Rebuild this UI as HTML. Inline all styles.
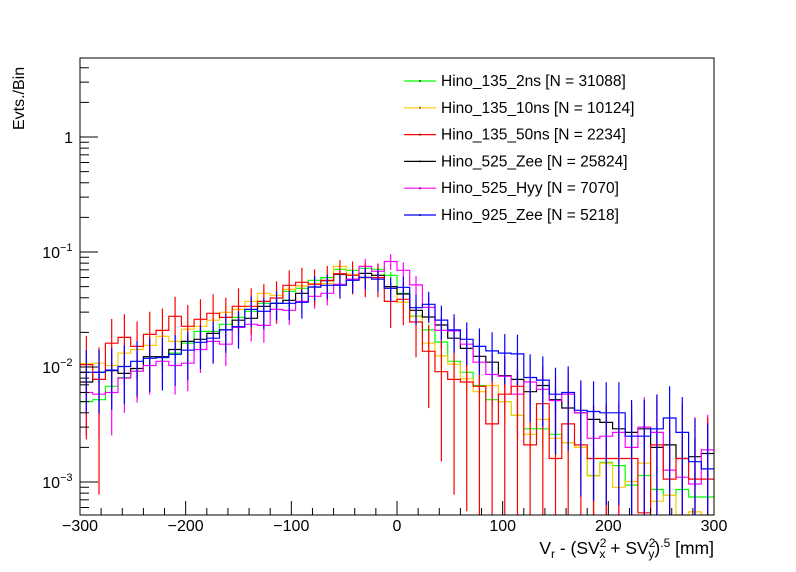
<!DOCTYPE html>
<html><head><meta charset="utf-8"><style>
body{margin:0;background:#fff;}
svg{display:block;font-family:"Liberation Sans",Arial,sans-serif;}
</style></head><body>
<svg id="chart" width="796" height="572" viewBox="0 0 796 572">
<rect x="0" y="0" width="796" height="572" fill="#fff"/>
<g id="plot"></g>
<g id="axes"></g>
<g id="legend"></g>
<text x="714" y="554" text-anchor="end" font-size="17.5">V<tspan font-size="12" dy="4">r</tspan><tspan dy="-4"> - (SV</tspan><tspan font-size="12" dy="-7">2</tspan><tspan font-size="12" dx="-7" dy="11">x</tspan><tspan dy="-4"> + SV</tspan><tspan font-size="12" dy="-7">2</tspan><tspan font-size="12" dx="-7" dy="11">y</tspan><tspan dy="-4">)</tspan><tspan font-size="12" dy="-7">.5</tspan><tspan dy="7"> [mm]</tspan></text>
<text transform="translate(24,130) rotate(-90)" text-anchor="start" font-size="16">Evts./Bin</text>
</svg>
<script>
const seriesNames = ["Hino_135_2ns","Hino_135_10ns","Hino_135_50ns","Hino_525_Zee","Hino_525_Hyy","Hino_925_Zee"];
const seriesCounts = [31088,10124,2234,25824,7070,5218];
const seriesColors = ["#00ff00","#ffc800","#ff0000","#000000","#ff00ff","#0000ff"];
const effEntries = [3000,1500,158,3000,500,352];
const binEdgesMin = -300, binEdgesMax = 300;
const xTicks = [-300,-200,-100,0,100,200,300];
const green = [.0050,.0052,.0068,.0081,.0092,.0123,.0121,.0132,.0161,.0204,.0204,.0235,.0270,.0305,.0358,.0358,.0455,.0483,.0567,.0599,.0707,.0693,.0721,.0707,.0627,.0437,
 .0277,.0210,.0165,.0112,.0090,.0069,.0052,.0050,.0038,.0029,.0029,.0026,.0022,.0020,.00114,.00148,.00139,.00094,.00114,.00086,.00077,.00086,.00074,.00074];
const yellow = [.0107,.0108,.0103,.0132,.0142,.0154,.0185,.0167,.0213,.0226,.0255,.0299,.0317,.0372,.0437,.0420,.0473,.0506,.0531,.0531,.0750,.0640,.0603,.0627,.0483,.0367,
 .0274,.0161,.0125,.0106,.0079,.0061,.0069,.0050,.0038,.0026,.0035,.0024,.0022,.0020,.00113,.00146,.0009,.00101,.00146,.00068,.00077,0,.00055,0];
const red = [.0105,.0078,.0161,.0181,.0151,.0192,.0208,.0276,.0226,.0260,.0293,.0270,.0337,.0337,.0372,.0398,.0513,.0545,.0524,.0567,.0648,.0627,.0599,.0599,.0372,.0388,
 .0246,.0137,.0091,.0078,.0074,.0068,.0032,.0058,.0068,.0021,.0048,.0016,.0032,.0021,.0016,.0016,.0016,.0016,.00054,.0021,.00106,.0016,.00106,.00106];
const black = [.0074,.0090,.0093,.0088,.0097,.0123,.0123,.0142,.0167,.0174,.0196,.0210,.0255,.0265,.0337,.0358,.0380,.0437,.0496,.0563,.0640,.0580,.0652,.0627,.0500,.0431,
 .0311,.0272,.0232,.0178,.0145,.0124,.0110,.0084,.0078,.0061,.0069,.0052,.0044,.0040,.0035,.0033,.0029,.0027,.0029,.0020,.0021,.0016,.00166,.00177];
const magenta = [.0060,.0058,.0060,.0080,.0092,.0103,.0112,.0103,.0108,.0142,.0167,.0158,.0221,.0235,.0230,.0317,.0311,.0372,.0412,.0437,.0524,.0580,.0750,.0679,.0827,.0693,
 .0517,.0330,.0208,.0206,.0158,.0110,.0086,.0083,.0058,.0074,.0064,.0051,.0058,.0040,.0024,.0025,.0027,.0020,.0030,.0027,.00127,.0011,.00096,.0019];
const blue = [.0090,.0090,.0094,.0101,.0112,.0119,.0121,.0129,.0140,.0164,.0178,.0210,.0224,.0317,.0305,.0358,.0358,.0365,.0496,.0513,.0513,.0567,.0603,.0580,.0483,.0493,
 .0328,.0351,.0256,.0210,.0174,.0151,.0138,.0132,.0130,.0081,.0077,.0058,.0060,.0042,.0041,.0040,.0040,.0025,.0025,.0029,.0036,.0027,.0015,.0013];
const seriesValues = [green,yellow,red,black,magenta,blue];

const NS="http://www.w3.org/2000/svg";
const L=80,R=714,T=58,B=515;
const yMinLog=-3.287, yMaxLog=0.696;
function xs(v){return L+(v-binEdgesMin)/(binEdgesMax-binEdgesMin)*(R-L);}
function ys(v){ if(v<=0) return B; let y=367-115*(Math.log10(v)+2); return Math.min(B,Math.max(T,y));}
function mk(tag,attrs,parent){const e=document.createElementNS(NS,tag);for(const k in attrs)e.setAttribute(k,attrs[k]);parent.appendChild(e);return e;}
const plot=document.getElementById('plot'), axes=document.getElementById('axes'), legend=document.getElementById('legend');

const order=[0,1,3,4,2,5];
order.forEach(si=>{
  const vals=seriesValues[si]; const n=vals.length; const w=(binEdgesMax-binEdgesMin)/n;
  const g=mk('g',{},plot);
  
  
  let d='';
  for(let i=0;i<n;i++){
    const x0=xs(binEdgesMin+i*w), x1=xs(binEdgesMin+(i+1)*w), y=ys(vals[i]);
    d+=(i===0?'M':'L')+x0.toFixed(1)+' '+y.toFixed(1)+' L'+x1.toFixed(1)+' '+y.toFixed(1)+' ';
  }
  const p=mk('path',{d:d,fill:'none',stroke:seriesColors[si],'stroke-width':1.2},g);
  
  
  for(let i=0;i<n;i++){
    const v=vals[i]; if(v<=0) continue;
    const rel=1/Math.sqrt(v*effEntries[si]);
    const xc=xs(binEdgesMin+(i+0.5)*w);
    const yt=ys(v*(1+rel)), yb=rel>=1?B:ys(v*(1-rel));
    const e=mk('line',{x1:xc,x2:xc,y1:yt,y2:yb,stroke:seriesColors[si],'stroke-width':1.2},g);
    
    
  }
});

const fr=mk('rect',{x:L,y:T,width:R-L,height:B-T,fill:'none',stroke:'#000','stroke-width':1},axes);


for(let v=-300;v<=300;v+=20){
  const x=xs(v), major=(v%100===0);
  mk('line',{x1:x,x2:x,y1:B,y2:B-(major?14:7),stroke:'#000','stroke-width':1},axes);
}
xTicks.forEach(v=>{
  const t=mk('text',{x:xs(v),y:531,'text-anchor':'middle','font-size':16},axes);
  t.textContent=(v<0?'\u2212':'')+Math.abs(v);
  
  
});
for(let e=-4;e<=0;e++){
  for(let m=1;m<10;m++){
    const v=m*Math.pow(10,e); const lg=Math.log10(v);
    if(lg<yMinLog||lg>yMaxLog) continue;
    const y=ys(v);
    mk('line',{x1:L,x2:L+(m===1?18:9),y1:y,y2:y,stroke:'#000','stroke-width':1},axes);
  }
}
const yLabels=[[-3,"10","\u22123"],[-2,"10","\u22122"],[-1,"10","\u22121"],[0,"1",""]];
yLabels.forEach(([e,b,s])=>{
  const y=ys(Math.pow(10,e));
  const t=mk('text',{x:s?60:73,y:y+6,'text-anchor':'end','font-size':16},axes);
  t.textContent=b;
  
  
  if(s){const u=mk('text',{x:60,y:y-1,'font-size':11},axes);u.textContent=s;
    
    }
});
seriesNames.forEach((nm,i)=>{
  const y=81+i*26.8;
  const g=mk('g',{},legend);
  
  
  mk('line',{x1:404,x2:436,y1:y,y2:y,stroke:seriesColors[i],'stroke-width':1.2},g);
  mk('line',{x1:420,x2:420,y1:y-1,y2:y+1,stroke:'#000','stroke-width':1},g);
  const t=mk('text',{x:441,y:y+5,'font-size':15.5},g);
  t.textContent=nm+' [N = '+seriesCounts[i]+']';
});
</script>
</body></html>
